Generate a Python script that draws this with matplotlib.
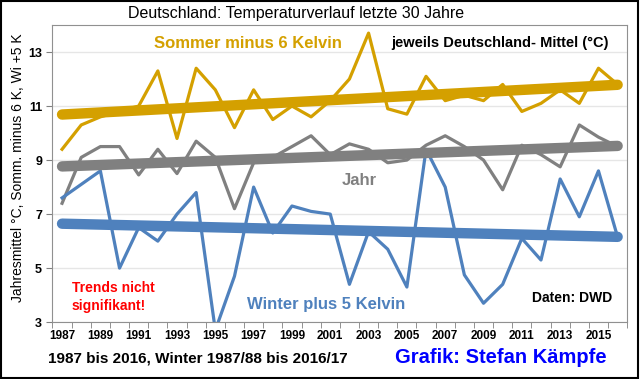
import numpy as np
import matplotlib.pyplot as plt

plt.rcParams['font.family'] = ['Liberation Sans', 'DejaVu Sans']
plt.rcParams['font.weight'] = 'bold'

# Data
years = list(range(1987, 2017))
sommer = [9.4, 10.3, 10.6, 10.8, 11.0, 12.3, 9.8, 12.4, 11.6, 10.2,
          11.6, 10.5, 11.0, 10.6, 11.2, 12.0, 13.7, 10.9, 10.7, 12.1,
          11.2, 11.4, 11.2, 11.8, 10.8, 11.1, 11.6, 11.1, 12.4, 11.8]
jahr = [7.4, 9.1, 9.5, 9.5, 8.45, 9.4, 8.5, 9.7, 9.1, 7.2,
        8.9, 9.1, 9.5, 9.9, 9.2, 9.6, 9.4, 8.9, 9.0, 9.55,
        9.9, 9.5, 9.0, 7.9, 9.55, 9.2, 8.75, 10.3, 9.85, 9.5]
winter = [7.6, 8.1, 8.6, 5.0, 6.5, 6.0, 7.0, 7.8, 2.7, 4.7,
          8.0, 6.3, 7.3, 7.1, 7.0, 4.4, 6.35, 5.7, 4.3, 9.4,
          8.0, 4.75, 3.7, 4.4, 6.1, 5.3, 8.3, 6.9, 8.6, 6.15]

c_som = '#D4A000'
c_jahr = '#808080'
c_win = '#4F81BD'

fig = plt.figure(figsize=(6.4, 3.79), dpi=100)
ax = fig.add_axes([0.082, 0.15, 0.898, 0.784])

x = np.array(years)
for vals, col in [(sommer, c_som), (jahr, c_jahr), (winter, c_win)]:
    ax.plot(x, vals, color=col, lw=2.3, zorder=3)
    # linear trend over the 30 years
    k, d = np.polyfit(x, vals, 1)
    ax.plot([x[0], x[-1]], [k * x[0] + d, k * x[-1] + d], color=col,
            lw=7.5, solid_capstyle='round', zorder=4)

ax.set_xlim(1986.5, 2016.5)
ax.set_ylim(3, 14)
ax.set_yticks([3, 5, 7, 9, 11, 13])
ax.set_xticks(range(1987, 2016, 2))
ax.set_xticks(np.arange(1986.5, 2017, 1), minor=True)
ax.tick_params(axis='x', which='major', length=0, labelsize=8.5, pad=6)
ax.tick_params(axis='x', which='minor', length=4, color='#808080')
ax.tick_params(axis='y', length=4, color='#808080', labelsize=9)
ax.grid(axis='y', color='#e6e6e6', lw=1, zorder=0)
for s in ax.spines.values():
    s.set_color('#909090')
ax.set_ylabel('Jahresmittel °C, Somm. minus 6 K, Wi +5 K', fontsize=10,
              fontweight='normal', labelpad=3)
ax.yaxis.set_label_coords(-0.048, 0.52)

ax.text(1996.7, 13.3, 'Sommer minus 6 Kelvin', color=c_som, fontsize=12,
        ha='center', va='center')
ax.text(2004.2, 13.33, 'jeweils Deutschland- Mittel (°C)', fontsize=10.5,
        ha='left', va='center')
ax.text(2002.5, 8.25, 'Jahr', color=c_jahr, fontsize=12, ha='center', va='center')
ax.text(2000.8, 3.64, 'Winter plus 5 Kelvin', color=c_win, fontsize=12,
        ha='center', va='center')
ax.text(1987.5, 3.94, 'Trends nicht\nsignifikant!', color='red', fontsize=10,
        ha='left', va='center', linespacing=1.4)
ax.text(2011.55, 3.9, 'Daten: DWD', fontsize=10, ha='left', va='center')

fig.text(0.462, 0.965, 'Deutschland: Temperaturverlauf letzte 30 Jahre',
         fontsize=11.5, fontweight='normal', ha='center', va='center')
fig.text(0.075, 0.055, '1987 bis 2016, Winter 1987/88 bis 2016/17',
         fontsize=11, ha='left', va='center')
fig.text(0.617, 0.058, 'Grafik: Stefan Kämpfe', color='#0000FF',
         fontsize=14.5, ha='left', va='center')

fig.patches.append(plt.Rectangle((0.002, 0.003), 0.995, 0.994,
                                 transform=fig.transFigure, fill=False,
                                 edgecolor='black', lw=1.5))

plt.savefig('out.png', dpi=100)
